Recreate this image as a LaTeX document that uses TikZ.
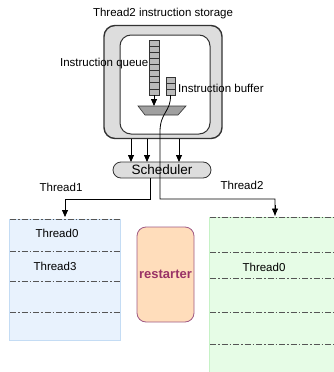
\documentclass[tikz,border=0pt]{standalone}
\usepackage{fontspec}
\setmainfont{Liberation Sans}
\usetikzlibrary{arrows.meta,shapes.misc}
\definecolor{boxgray}{HTML}{DDDDDD}
\definecolor{cellgray}{HTML}{BBBBBB}
\definecolor{muxgray}{HTML}{A0A0A0}
\definecolor{edgedark}{HTML}{333333}
\definecolor{bluefill}{HTML}{E8F2FD}
\definecolor{blueedge}{HTML}{C4DCF4}
\definecolor{greenfill}{HTML}{E6FCE6}
\definecolor{greenedge}{HTML}{C6F2C6}
\definecolor{restfill}{HTML}{FFDDBB}
\definecolor{restedge}{HTML}{A05A84}
\definecolor{resttext}{HTML}{993366}
\definecolor{dashgray}{HTML}{555555}
\tikzset{
  lbl/.style={font=\fontsize{11.5}{13}\selectfont, inner sep=0pt},
  slot/.style={draw=dashgray, line width=0.8pt, dash pattern=on 6pt off 2pt on 1.5pt off 2pt},
  arr/.style={-{Triangle[length=7pt,width=6pt]}, line width=0.8pt},
  wire/.style={line width=0.8pt},
  cellbox/.style={draw=edgedark, fill=cellgray, line width=0.6pt},
}
\begin{document}
\begin{tikzpicture}[x=1pt,y=-1pt]
\useasboundingbox (0,0) rectangle (334,372);

% storage block
\node[lbl] (title) at (163,14) {Thread2 instruction storage};
\node[draw=edgedark, line width=1.4pt, fill=boxgray, rounded corners=11pt,
      minimum width=118pt, minimum height=113pt] (outer) at (163,82) {};
\node[draw=edgedark, line width=1pt, fill=white, rounded corners=11pt,
      minimum width=90pt, minimum height=99pt] (inner) at (165,84.5) {};

% instruction queue (9 cells)
\foreach \i in {0,...,8}
  \draw[cellbox] (149,{40+\i*6.1}) rectangle (159,{40+(\i+1)*6.1});
\coordinate (qbot) at (154,95);
% instruction buffer (3 cells)
\foreach \i in {0,1,2}
  \draw[cellbox] (166,{77+\i*6}) rectangle (175,{77+(\i+1)*6});
\coordinate (bbot) at (170.5,95);

% selector
\draw[draw=edgedark, fill=muxgray, line width=0.6pt]
  (138,106) -- (186,106) -- (178,115) -- (145,115) -- cycle;
\coordinate (mux) at (154,106);
\draw[arr] (qbot) -- (mux);

\node[lbl, anchor=east] (qlabel) at (148.5,64) {Instruction queue};
\node[lbl, anchor=west] (blabel) at (178,88) {Instruction buffer};

% scheduler
\node[draw=edgedark, line width=0.8pt, fill=boxgray, rounded rectangle,
      minimum width=98pt, minimum height=16pt, inner sep=0pt,
      font=\fontsize{13.5}{15}\selectfont] (sched) at (162,170) {Scheduler};
\foreach \x in {131,147,179}
  \draw[arr] (\x,138.5) -- (\x,162);

% queues of threads
\node[draw=blueedge, fill=bluefill, minimum width=111pt, minimum height=121pt,
      inner sep=0pt] (left) at (65,280) {};
\node[draw=greenedge, fill=greenfill, minimum width=125pt, minimum height=156pt,
      inner sep=0pt] (right) at (272,295) {};
\foreach \y in {219,251,281,312}
  \draw[slot] (10,\y) -- (120,\y);
\foreach \y in {217,252,278,312,344}
  \draw[slot] (210,\y) -- (334,\y);
\node[lbl] (l0) at (57,233) {Thread0};
\node[lbl] (l3) at (55,266) {Thread3};
\node[lbl] (r0) at (264,267) {Thread0};

% restarter
\node[draw=restedge, fill=restfill, line width=0.8pt, rounded corners=9pt,
      minimum width=57pt, minimum height=95pt, inner sep=0pt,
      text=resttext, font=\bfseries\fontsize{13}{15}\selectfont] (rest) at (165.5,274.5) {restarter};

% scheduler outputs
\coordinate (s1) at (150,178);
\coordinate (lt) at (65,217);
\draw[arr] (s1) -- (150,199) -| (lt);
\node[lbl] (t1) at (61,187) {Thread1};

% thread2 path from the instruction buffer
\coordinate (rt) at (275,215.5);
\draw[wire] (bbot) .. controls (171,112) and (160,112) .. (160,132) -- (160,199) -| (rt);
\draw[arr] (275,205) -- (rt);
\node[lbl] (t2) at (242,185) {Thread2};
\end{tikzpicture}
\end{document}
